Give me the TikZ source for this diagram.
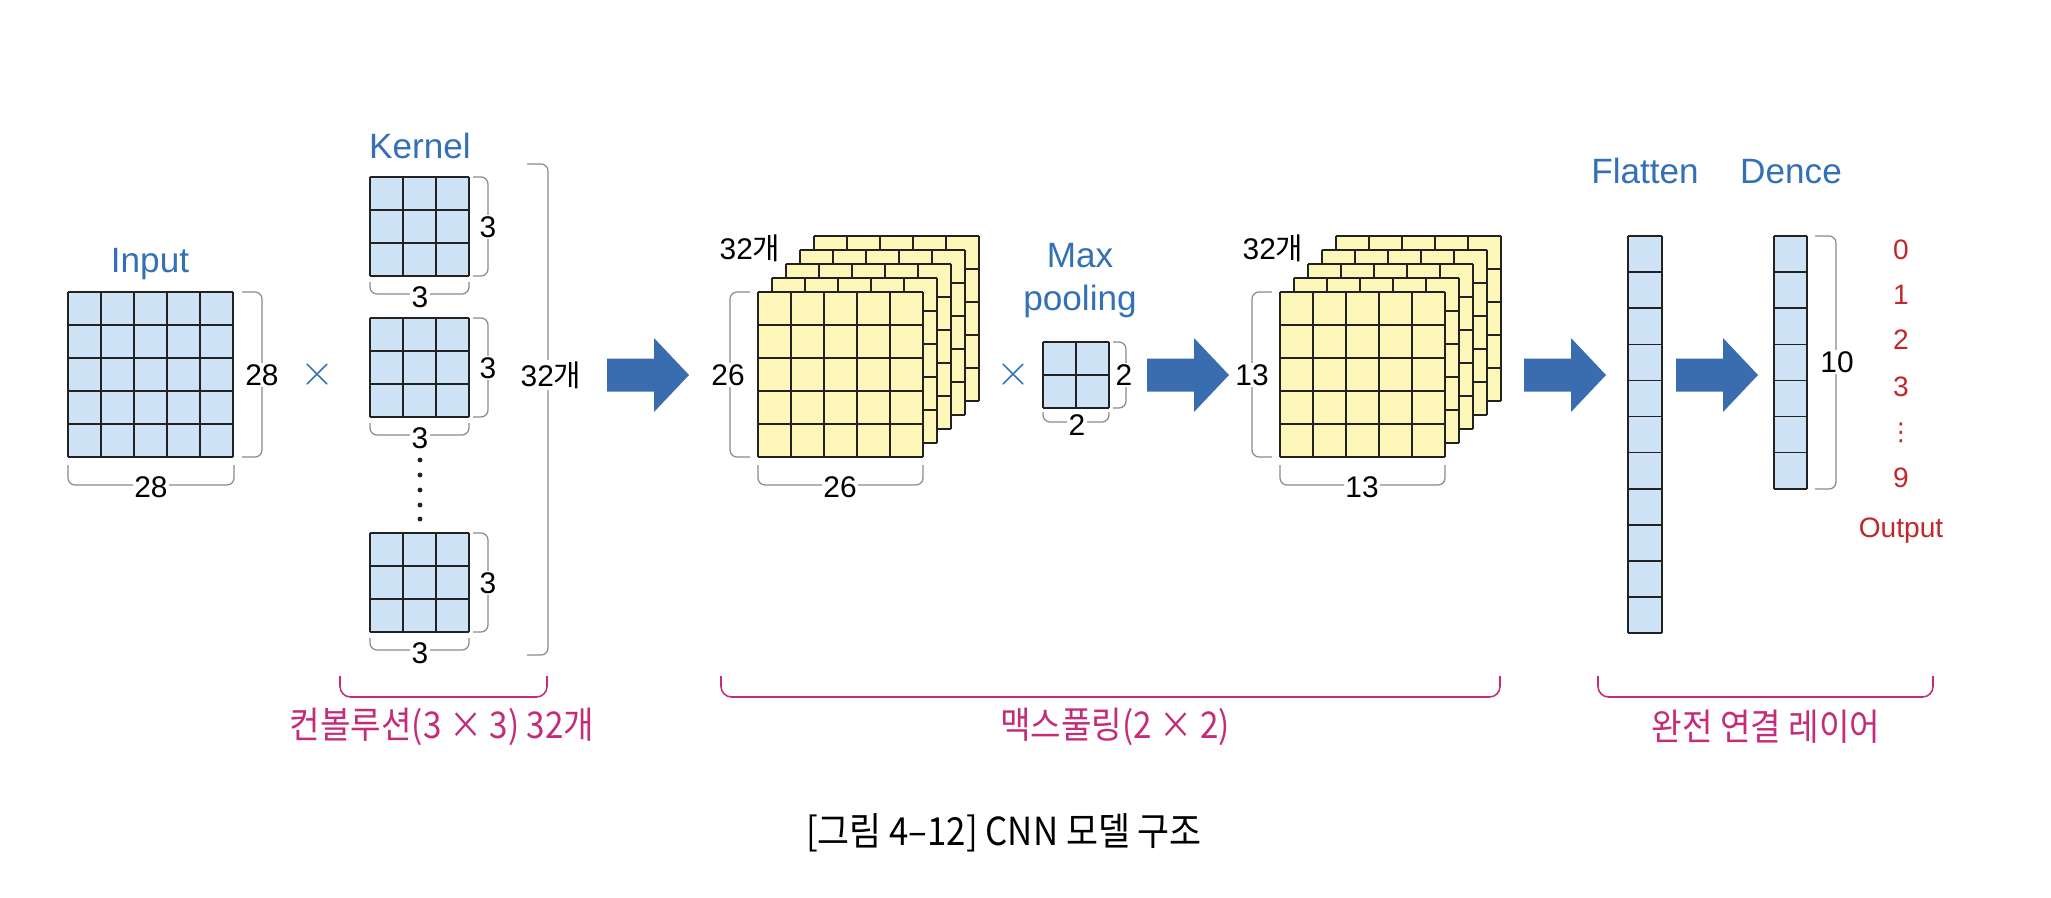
\documentclass[tikz,border=0pt]{standalone}
\usepackage{fontspec}
\usepackage{tikz}
\setmainfont{Liberation Sans}
\newfontfamily\krfont{Noto Sans CJK KR}
\newfontfamily\krcond[FakeStretch=0.9]{Noto Sans CJK KR}
\newfontfamily\symfont{DejaVu Sans}
\definecolor{titleblue}{RGB}{52,112,182}
\definecolor{arrowblue}{RGB}{57,109,175}
\definecolor{cellblue}{RGB}{206,227,246}
\definecolor{cellyellow}{RGB}{253,247,185}
\definecolor{partmag}{RGB}{196,44,122}
\definecolor{outred}{RGB}{192,39,45}
\definecolor{bracegray}{RGB}{138,138,138}
\definecolor{gridgray}{RGB}{34,34,34}
\tikzset{
gridline/.style={draw=gridgray, line width=0.9pt},
dimbrace/.style={draw=bracegray, line width=0.7pt, rounded corners=4pt},
partbrace/.style={draw=partmag, line width=0.9pt, rounded corners=6pt},
dimlabel/.style={fill=white, inner sep=1pt, font=\fontsize{17}{17}\selectfont},
titletext/.style={text=titleblue, anchor=base, inner sep=0pt, font=\fontsize{20}{24}\selectfont},
timestext/.style={text=titleblue, font=\fontsize{26}{26}\selectfont},
parttext/.style={text=partmag, font=\krcond\fontsize{21}{21}\selectfont},
outtext/.style={text=outred, inner sep=1pt, font=\fontsize{16}{16}\selectfont},
pics/cells/.style n args={5}{code={
  \fill[#5] (0,0) rectangle (#1*#3,#2*#4);
  \foreach \i in {0,...,#1} \draw[gridline] (\i*#3,0) -- (\i*#3,#2*#4);
  \foreach \j in {0,...,#2} \draw[gridline] (0,\j*#4) -- (#1*#3,\j*#4);
  }},
pics/bigarrow/.style={code={
  \fill[arrowblue] (0,-16.5) -- (47,-16.5) -- (47,-37) -- (82,0) -- (47,37) -- (47,16.5) -- (0,16.5) -- cycle;
  }}
}
\begin{document}
\begin{tikzpicture}[x=0.02cm, y=-0.02cm]
\useasboundingbox (0,0) rectangle (2051,897);
% input and kernels
\pic at (68,292) {cells={5}{5}{33}{33}{cellblue}};
\node[titletext] (inp) at (150,272) {Input};
\draw[dimbrace] (242,292) -| (262,457) -- (242,457);
\node[dimlabel] (inph) at (262,375) {28};
\draw[dimbrace] (68,465) |- (234,485) -- (234,465);
\node[dimlabel] (inpw) at (151,487) {28};
\node[timestext] (times1) at (317,375) {$\times$};
\node[titletext] (kern) at (420,158) {Kernel};
\foreach \y/\n in {177/1,318/2,533/3} {
  \pic at (370,\y) {cells={3}{3}{33}{33}{cellblue}};
  \draw[dimbrace] (473,\y) -| (488,\y+99) -- (473,\y+99);
  \node[dimlabel] (kh\n) at (488,\y+50) {3};
  \draw[dimbrace] (370,\y+105) |- (469,\y+117) -- (469,\y+105);
  \node[dimlabel] (kw\n) at (420,\y+120) {3};
}
\foreach \y in {460,475,490,505,519} \fill[gridgray] (420,\y) circle (1.4pt);
\draw[dimbrace] (527,164) -| (548,655) -- (527,655);
\node[dimlabel] (nkern) at (551,375) {32{\krfont 개}};
\pic at (607,375) {bigarrow};
% convolution maps
\foreach \k in {4,...,0} \pic at ({758+14*\k},{292-14*\k}) {cells={5}{5}{33}{33}{cellyellow}};
\node[font=\fontsize{17}{17}\selectfont] (nconv) at (750,248) {32{\krfont 개}};
\draw[dimbrace] (750,292) -| (730,457) -- (750,457);
\node[dimlabel] (convh) at (728,375) {26};
\draw[dimbrace] (758,465) |- (923,485) -- (923,465);
\node[dimlabel] (convw) at (840,487) {26};
\node[timestext] (times2) at (1013,375) {$\times$};
\node[titletext] (maxt) at (1080,267) {Max};
\node[titletext] (poolt) at (1080,310) {pooling};
\pic at (1043,342) {cells={2}{2}{33}{33}{cellblue}};
\draw[dimbrace] (1113,342) -| (1126,408) -- (1113,408);
\node[dimlabel] (poolh) at (1124,375) {2};
\draw[dimbrace] (1043,412) |- (1109,422) -- (1109,412);
\node[dimlabel] (poolw) at (1077,425) {2};
\pic at (1147,375) {bigarrow};
% pooled maps
\foreach \k in {4,...,0} \pic at ({1280+14*\k},{292-14*\k}) {cells={5}{5}{33}{33}{cellyellow}};
\node[font=\fontsize{17}{17}\selectfont] (npool) at (1273,248) {32{\krfont 개}};
\draw[dimbrace] (1272,292) -| (1252,457) -- (1272,457);
\node[dimlabel] (pmaph) at (1252,375) {13};
\draw[dimbrace] (1280,465) |- (1445,485) -- (1445,465);
\node[dimlabel] (pmapw) at (1362,487) {13};
\pic at (1524,375) {bigarrow};
% flatten and dense
\node[titletext] (flat) at (1645,183) {Flatten};
\pic at (1628,236) {cells={1}{11}{34}{36.1}{cellblue}};
\pic at (1676,375) {bigarrow};
\node[titletext] (dens) at (1791,183) {Dence};
\pic at (1774,236) {cells={1}{7}{33}{36.1}{cellblue}};
\draw[dimbrace] (1815,236) -| (1836,489) -- (1815,489);
\node[dimlabel] (densh) at (1837,362) {10};
\foreach \y/\t in {250/0,295/1,340/2,387/3,478/9} \node[outtext] (out\t) at (1901,\y) {\t};
\node[outtext, font=\symfont\fontsize{14}{14}\selectfont, inner sep=0pt] (outdots) at (1901,433) {⋮};
\node[outtext, anchor=base, inner sep=0pt] (outt) at (1901,537) {Output};
% parts
\draw[partbrace] (340,676) |- (547,697) -- (547,676);
\node[parttext] (convp) at (442,727) {컨볼루션(3 × 3) 32개};
\draw[partbrace] (721,676) |- (1500,697) -- (1500,676);
\node[parttext] (poolp) at (1115,727) {맥스풀링(2 × 2)};
\draw[partbrace] (1598,676) |- (1933,697) -- (1933,676);
\node[parttext] (fcp) at (1766,727) {완전 연결 레이어};
\node[font=\krcond\fontsize{22}{22}\selectfont] (capt) at (1004,833) {[그림 4–12] CNN 모델 구조};
\end{tikzpicture}
\end{document}
